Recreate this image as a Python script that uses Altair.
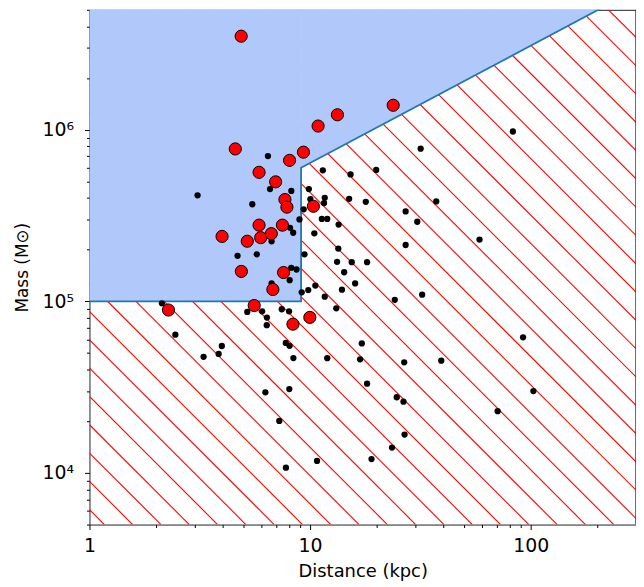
import altair as alt
import pandas as pd
import numpy as np

# ---------------- data ----------------
red_dist = [4.87, 23.8, 13.3, 10.87, 4.58, 9.33, 8.07, 5.87, 6.98, 7.69, 7.85, 10.35,
            5.87, 7.49, 3.99, 5.19, 5.97, 6.67, 4.88, 7.58, 6.78, 5.58, 2.28, 8.36, 9.97]
red_mass = [3.51e6, 1.389e6, 1.223e6, 1.051e6, 7.73e5, 7.4e5, 6.63e5, 5.65e5, 4.97e5, 3.92e5,
            3.54e5, 3.58e5, 2.78e5, 2.78e5, 2.39e5, 2.24e5, 2.35e5, 2.48e5, 1.494e5, 1.472e5,
            1.172e5, 9.45e4, 8.9e4, 7.36e4, 8.06e4]

blk_dist = [3.09, 6.44, 6.58, 8.22, 5.47, 6.69, 4.69, 5.73, 9.87, 11.42, 15.25, 19.93,
            10.03, 11.65, 11.56, 15.03, 17.88, 9.35, 11.3, 11.96, 8.95, 13.47, 27.1, 8.11,
            8.38, 10.45, 13.42, 9.43, 13.25, 15.44, 18.12, 27.1, 8.21, 8.68, 8.08, 14.27,
            16.0, 10.56, 9.81, 9.16, 13.94, 11.65, 24.2, 13.14, 7.44, 8.03, 7.76, 8.07,
            17.15, 8.40, 11.96, 16.85, 26.7, 18.12, 8.05, 24.7, 26.5, 6.27, 7.25, 26.8,
            23.5, 18.98, 10.75, 7.77, 70.8, 102.8, 83.0, 31.7, 37.3, 30.6, 58.6, 32.2,
            92.3, 39.3, 2.13, 2.45, 3.29, 3.85, 3.98, 6.69, 5.19, 6.06, 6.37, 6.36]
blk_mass = [4.15e5, 7.02e5, 4.51e5, 4.40e5, 3.68e5, 2.24e5, 1.843e5, 1.88e5, 4.51e5, 5.80e5,
            5.49e5, 5.83e5, 3.94e5, 4.01e5, 3.74e5, 3.96e5, 3.80e5, 3.44e5, 3.02e5, 3.02e5,
            3.0e5, 2.80e5, 3.34e5, 2.68e5, 2.51e5, 2.49e5, 2.03e5, 1.88e5, 1.70e5, 1.69e5,
            1.69e5, 2.13e5, 1.568e5, 1.533e5, 1.329e5, 1.477e5, 1.272e5, 1.236e5, 1.163e5,
            1.128e5, 1.169e5, 1.064e5, 1.02e5, 9.1e4, 8.99e4, 8.74e4, 5.72e4, 5.50e4,
            5.68e4, 4.67e4, 4.66e4, 4.59e4, 4.41e4, 3.31e4, 3.08e4, 2.76e4, 2.60e4, 2.95e4,
            2.01e4, 1.673e4, 1.405e4, 1.204e4, 1.175e4, 1.073e4, 2.29e4, 3.0e4, 9.77e5,
            7.76e5, 3.82e5, 2.91e5, 2.29e5, 1.094e5, 6.17e4, 4.51e4, 9.74e4, 6.39e4,
            4.75e4, 4.94e4, 5.49e4, 1.272e5, 8.68e4, 8.74e4, 8.04e4, 7.26e4]

# boundary of the allowed (blue) region
bound_dist = [1, 9.1, 9.1, 300]
bound_mass = [1e5, 1e5, 6.0e5, 6.55e6]
rect_dist = [1]
rect_dist2 = [9.1]
rect_mass = [1e5]
top_mass = 1e7

x_ticks = [1, 2, 3, 4, 5, 6, 7, 8, 9, 10, 20, 30, 40, 50, 60, 70, 80, 90, 100, 200, 300]
y_ticks = [5000, 6000, 7000, 8000, 9000,
           10000, 20000, 30000, 40000, 50000, 60000, 70000, 80000, 90000,
           100000, 200000, 300000, 400000, 500000, 600000, 700000, 800000, 900000,
           1000000, 2000000, 3000000, 4000000, 5000000]

X_DOMAIN = [1, 300]
Y_DOMAIN = [5000, 5e6]
W, H = 550, 518

# ---------------- hatch lines (decoration, 45 deg in screen space) ----------------
HATCH_SPACING = 28.48
HATCH_PHASE = 9.64
lx0, lx1 = np.log10(X_DOMAIN[0]), np.log10(X_DOMAIN[1])
ly0, ly1 = np.log10(Y_DOMAIN[0]), np.log10(Y_DOMAIN[1])

def ux_to_x(u):
    return 10 ** (lx0 + u / W * (lx1 - lx0))

def uy_to_y(u):
    return 10 ** (ly1 - u / H * (ly1 - ly0))

rows = []
for n in range(-25, 25):
    c = HATCH_PHASE + n * HATCH_SPACING
    a = max(0.0, c)
    b = min(float(W), c + H)
    if b <= a:
        continue
    rows.append({"x": ux_to_x(a), "y": uy_to_y(a - c), "x2": ux_to_x(b), "y2": uy_to_y(b - c)})
hatch = pd.DataFrame(rows)

red_df = pd.DataFrame({"d": red_dist, "m": red_mass})
blk_df = pd.DataFrame({"d": blk_dist, "m": blk_mass})
bound_df = pd.DataFrame({"d": bound_dist, "m": bound_mass, "o": list(range(len(bound_dist)))})
area_df = pd.DataFrame({"d": bound_dist[2:], "m": bound_mass[2:], "top": [top_mass] * 2})
rect_df = pd.DataFrame({"d": rect_dist, "d2": rect_dist2, "m": rect_mass, "top": [top_mass]})
edge_df = pd.DataFrame({"d": [X_DOMAIN[1]], "m": [Y_DOMAIN[0]], "m2": [Y_DOMAIN[1]]})

FONT = "DejaVu Sans"
xs = alt.Scale(type="log", domain=X_DOMAIN, nice=False)
ys = alt.Scale(type="log", domain=Y_DOMAIN, nice=False)

x_axis = alt.Axis(
    values=x_ticks,
    labelExpr="datum.value == 1 ? '1' : datum.value == 10 ? '10' : datum.value == 100 ? '100' : ''",
    tickSize={"condition": {"test": "datum.value == 1 || datum.value == 10 || datum.value == 100",
                            "value": 5}, "value": 3},
    title="Distance (kpc)", grid=False, domain=False, labelOverlap=False, labelFlush=False,
    labelFont=FONT, labelFontSize=19, labelColor="black", labelPadding=7,
    titleFont=FONT, titleFontSize=18, titleFontWeight="normal", titleColor="black", titlePadding=7,
    tickColor="black", tickWidth=1,
)
y_axis = alt.Axis(
    values=y_ticks,
    labelExpr="datum.value == 10000 ? '10⁴' : datum.value == 100000 ? '10⁵' : datum.value == 1000000 ? '10⁶' : ''",
    tickSize={"condition": {"test": "datum.value == 10000 || datum.value == 100000 || datum.value == 1000000",
                            "value": 5}, "value": 3},
    title="Mass (M⊙)", grid=False, domain=False, labelOverlap=False, labelFlush=False,
    labelFont=FONT, labelFontSize=19, labelColor="black", labelPadding=11,
    titleFont=FONT, titleFontSize=17, titleFontWeight="normal", titleColor="black", titlePadding=11,
    tickColor="black", tickWidth=1,
)

def X(f):
    return alt.X(f, type="quantitative", scale=xs, axis=x_axis)

def Y(f):
    return alt.Y(f, type="quantitative", scale=ys, axis=y_axis)

hatch_layer = alt.Chart(hatch).mark_rule(color="#ff0000", strokeWidth=1.1, clip=True).encode(
    x=X("x"), y=Y("y"), x2="x2", y2="y2")

blue = "#b0c9fa"
rect_layer = alt.Chart(rect_df).mark_rect(color=blue, opacity=1, clip=True).encode(
    x=X("d"), x2="d2", y=Y("m"), y2="top")
area_layer = alt.Chart(area_df).mark_area(color=blue, opacity=1, clip=True).encode(
    x=X("d"), y=Y("m"), y2="top")
line_layer = alt.Chart(bound_df).mark_line(color="#1f77b4", strokeWidth=1.8, clip=True).encode(
    x=X("d"), y=Y("m"), order="o:Q")
edge_layer = alt.Chart(edge_df).mark_rule(color="#8a1c1c", strokeWidth=1.5).encode(
    x=X("d"), y=Y("m"), y2="m2")

blk_layer = alt.Chart(blk_df).mark_circle(color="black", size=40, opacity=1).encode(
    x=X("d"), y=Y("m"))
red_layer = alt.Chart(red_df).mark_point(filled=True, fill="#ff0000", stroke="black", strokeWidth=1,
                                         size=150, opacity=1, shape="circle").encode(
    x=X("d"), y=Y("m"))

chart = alt.layer(hatch_layer, rect_layer, area_layer, line_layer, edge_layer, blk_layer, red_layer).properties(
    width=W, height=H,
    autosize=alt.AutoSizeParams(type="none"),
    padding={"left": 82, "top": 0, "right": 0, "bottom": 60},
    background="white",
).configure_view(stroke="#222", strokeWidth=1)

chart.save("out.html", embed_options={"renderer": "svg", "actions": False})
